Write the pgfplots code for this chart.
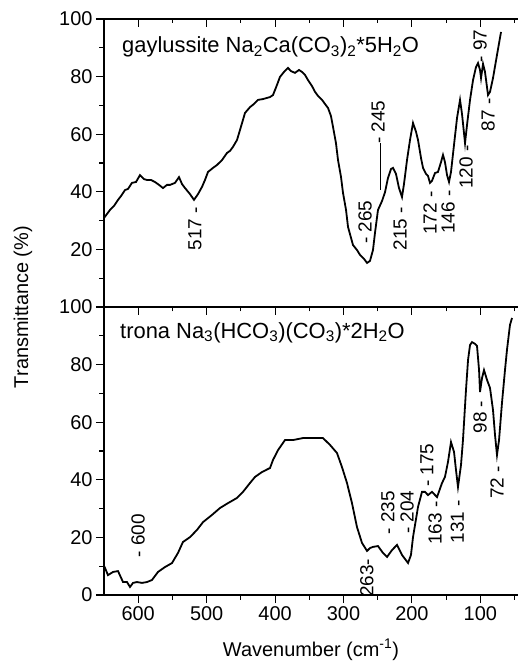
\documentclass[border=0pt]{standalone}
\usepackage{fontspec}
\setmainfont{Liberation Sans}
\usepackage{pgfplots}
\pgfplotsset{compat=1.18}
\pgfplotsset{common/.style={
  width=414bp,height=288bp,scale only axis,
  x dir=reverse, xmin=45, xmax=650, ymin=0, ymax=100,
  xtick={100,200,...,600}, minor xtick={50,150,...,550},
  minor ytick={10,30,...,90},
  axis line style={line width=1.2bp},
  tick style={black,line width=1.1bp},
  major tick length=8bp, minor tick length=4.5bp,
  tick align=outside,
  /pgf/number format/assume math mode=true,
  /pgf/number format/1000 sep={},
}}
\begin{document}
\begin{tikzpicture}[font=\fontsize{20}{24}\selectfont]
\path[use as bounding box] (-104bp,-68bp) rectangle (415bp,595bp);
% ---------------- bottom panel: trona
\begin{axis}[common, at={(0,0)}, anchor=south west, axis y line*=left,
  xtick pos=bottom, ytick pos=left, ytick={0,20,...,100},
  xlabel={Wavenumber (cm\textsuperscript{-1})},
  xlabel style={at={(axis description cs:0.5,-0.191)},anchor=center},
  ylabel={Transmittance (\%)},
  ylabel style={at={(axis description cs:-0.196,1)},anchor=center}]
\addplot[black, line width=1.8bp] coordinates {
(650.0,10.1)(648.5,9.4)(644.2,6.9)(636.8,8.0)(629.5,8.3)(622.2,4.5)(616.4,4.5)
(612.0,2.8)(607.6,4.2)(601.8,4.5)(594.5,4.2)(587.2,4.5)(579.9,5.2)(571.1,8.0)
(560.9,9.7)(550.6,11.1)(541.9,14.6)(534.6,18.4)(524.3,20.1)(514.1,22.6)(505.3,25.3)
(492.2,27.8)(480.5,30.2)(468.8,31.9)(455.6,33.7)(446.9,35.8)(436.6,38.9)(429.3,41.0)
(419.1,42.7)(407.4,44.1)(403.0,46.9)(395.7,50.3)(385.5,53.8)(373.8,53.8)(359.2,54.5)
(344.6,54.5)(330.0,54.5)(319.7,52.1)(309.5,49.3)(302.2,44.4)(294.9,38.9)(287.6,31.9)
(280.3,23.6)(273.0,18.1)(265.6,15.3)(261.3,16.3)(256.9,16.7)(249.6,17.0)(242.3,14.6)
(236.4,13.2)(229.1,15.6)(221.8,17.4)(214.5,13.9)(205.7,11.1)(201.4,13.9)(198.4,20.1)
(191.1,30.6)(185.3,35.8)(180.9,35.8)(176.5,34.7)(170.7,35.8)(163.3,34.0)(156.0,38.9)
(151.7,41.0)(147.3,46.2)(142.9,53.1)(138.5,49.7)(135.6,43.4)(132.7,37.5)(128.3,45.1)
(125.4,53.8)(121.0,71.2)(118.0,81.6)(115.1,86.8)(112.2,87.8)(107.8,87.2)(104.9,86.5)
(101.9,78.1)(100.5,70.5)(97.6,75.3)(94.7,78.1)(90.3,74.7)(85.9,71.9)(81.5,64.2)
(78.6,55.6)(75.7,48.6)(72.7,53.8)(68.4,66.7)(64.0,78.1)(61.1,85.1)(56.7,93.8)(53.7,96.2)
};
\node[anchor=base west, inner sep=0pt, font=\fontsize{22}{26}\selectfont] at (rel axis cs:0.0386,0.892)
  {trona Na\textsubscript{3}(HCO\textsubscript{3})(CO\textsubscript{3})*2H\textsubscript{2}O};
\begin{scope}[every node/.style={rotate=90,font=\fontsize{19}{22}\selectfont}]
\node at (axis cs:600.3,20.5) {- 600};
\node at (axis cs:265.7,5.9) {263-};
\node at (axis cs:235.0,28.5) {- 235};
\node at (axis cs:207.2,28.8) {- 204};
\node at (axis cs:178.0,45.1) {- 175};
\node at (axis cs:166.3,25.0) {163 -};
\node at (axis cs:133.5,25.5) {131 -};
\node at (axis cs:100.5,61.8) {98 -};
\node at (axis cs:75.7,39.0) {72 -};
\end{scope}
\end{axis}
% ---------------- top panel: gaylussite
\begin{axis}[common, at={(0,288bp)}, anchor=south west, axis y line*=left,
  xtick pos=bottom, xticklabels={}, ytick pos=left, ytick={20,40,...,100}]
\addplot[black, line width=1.8bp] coordinates {
(650.0,30.9)(641.2,33.7)(635.4,35.1)(629.5,37.2)(625.2,38.5)(619.3,40.6)(614.9,41.0)
(609.1,43.1)(603.2,43.4)(597.4,45.8)(591.5,44.4)(587.2,44.1)(581.3,44.1)(575.5,43.4)
(569.6,42.4)(563.8,41.3)(557.9,42.4)(553.5,42.4)(546.2,43.1)(540.4,45.1)(536.0,42.7)
(531.6,41.3)(524.3,39.2)(518.5,37.2)(512.6,39.2)(506.8,41.7)(502.4,44.1)(498.0,46.9)
(490.7,48.3)(484.9,49.3)(477.6,51.0)(470.2,53.5)(465.9,54.2)(461.5,55.6)(455.6,58.0)
(451.2,61.5)(443.9,67.4)(436.6,69.4)(430.8,70.5)(425.0,71.9)(417.6,72.2)(411.8,72.6)
(407.4,72.9)(403.0,73.6)(397.2,77.1)(392.8,79.9)(387.0,81.6)(381.1,83.0)(376.7,81.9)
(370.9,81.3)(365.0,82.3)(360.6,81.6)(356.3,80.6)(351.9,78.8)(346.0,76.7)(341.6,74.7)
(337.3,73.3)(331.4,71.9)(327.0,70.5)(322.6,69.1)(318.3,66.3)(315.3,62.5)(311.0,56.9)
(308.0,51.0)(303.6,45.1)(300.7,39.6)(296.3,33.7)(293.4,27.8)(289.0,24.0)(286.1,21.5)
(280.3,19.8)(275.9,18.1)(270.0,16.7)(265.6,15.3)(261.3,16.0)(256.9,19.8)(254.0,25.7)
(249.6,33.7)(243.7,36.8)(239.3,39.9)(235.0,44.8)(230.6,47.9)(227.7,48.3)(223.3,46.2)
(218.9,41.3)(214.5,38.2)(211.6,42.7)(207.2,51.0)(202.8,58.0)(198.4,63.9)(194.0,60.8)
(191.1,58.0)(186.7,51.7)(183.8,48.3)(179.4,46.2)(176.5,45.5)(173.6,43.1)(170.7,43.8)
(166.3,46.5)(161.9,46.9)(157.5,50.3)(154.6,52.8)(151.7,50.3)(148.7,45.8)(145.8,43.4)
(142.9,46.9)(138.5,56.3)(134.1,65.6)(129.7,71.9)(126.8,67.0)(122.4,56.9)(119.5,63.2)
(115.1,71.9)(110.7,78.8)(106.4,83.3)(103.4,84.7)(100.5,82.3)(99.0,79.5)(96.1,84.4)
(93.2,81.6)(88.8,73.6)(85.9,74.7)(81.5,79.5)(75.7,87.5)(69.8,95.5)
};
\node[anchor=base west, inner sep=0pt, font=\fontsize{22}{26}\selectfont] at (rel axis cs:0.0435,0.882)
  {gaylussite Na\textsubscript{2}Ca(CO\textsubscript{3})\textsubscript{2}*5H\textsubscript{2}O};
\draw[line width=0.8bp] (axis cs:246.6,56.9) -- (axis cs:246.6,40.6);
\begin{scope}[every node/.style={rotate=90,font=\fontsize{19}{22}\selectfont}]
\node at (axis cs:517.0,27.1) {517 -};
\node at (axis cs:268.6,29.5) {- 265};
\node at (axis cs:249.6,64.2) {- 245};
\node at (axis cs:217.4,27.1) {215 -};
\node at (axis cs:173.6,32.6) {172 -};
\node at (axis cs:147.3,33.0) {146 -};
\node at (axis cs:121.0,48.6) {120 -};
\node at (axis cs:88.8,66.7) {87 -};
\node at (axis cs:100.5,90.6) {- 97};
\end{scope}
\end{axis}
% ---------------- inward ticks on top edge of top panel
\begin{axis}[common, at={(0,288bp)}, anchor=south west,
  tick align=inside, axis x line*=top, xticklabels={}, hide y axis]
\end{axis}
\end{tikzpicture}
\end{document}
